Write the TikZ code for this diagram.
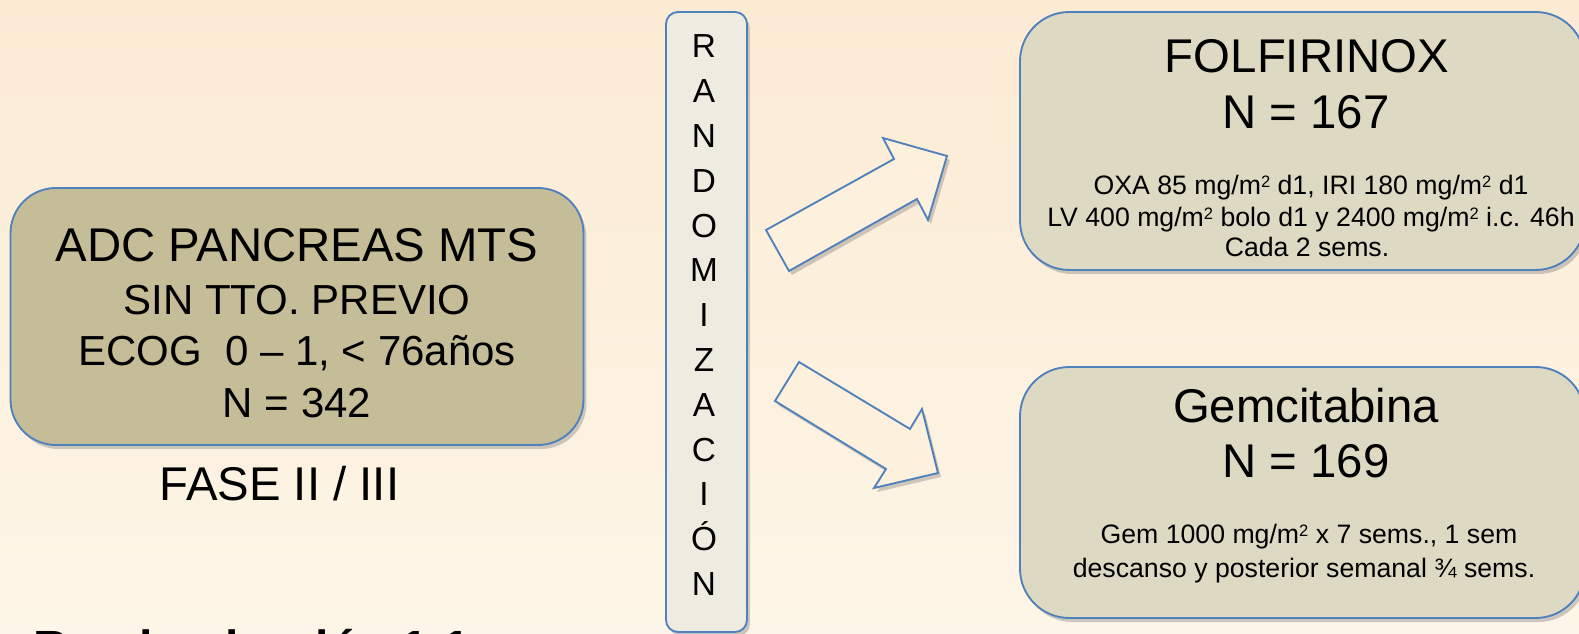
\documentclass[tikz,border=0pt]{standalone}
\usepackage{fontspec}
\setmainfont{Liberation Sans}
\usetikzlibrary{shadows}

\definecolor{bgtop}{RGB}{252,235,211}
\definecolor{bgbot}{RGB}{253,245,231}
\definecolor{edgeblue}{RGB}{79,129,189}
\definecolor{olivefill}{RGB}{196,189,151}
\definecolor{sandfill}{RGB}{221,217,195}
\definecolor{palefill}{RGB}{238,236,225}
\definecolor{arrowfill}{RGB}{253,240,221}

\newcommand{\sq}{\raisebox{0.55ex}{\scalebox{0.62}{2}}}

\tikzset{
  softshadow/.style={drop shadow={shadow xshift=2.2pt, shadow yshift=-3pt, fill=black!55, opacity=0.35}},
  panel/.style={draw=edgeblue, line width=1.4pt, softshadow, inner sep=0pt},
  txt/.style={anchor=base, inner sep=0pt, text=black},
  bigfont/.style={font=\fontsize{35.5}{40}\selectfont},
  midfont/.style={font=\fontsize{31.5}{36}\selectfont},
  smallfont/.style={font=\fontsize{20}{24}\selectfont},
  letterfont/.style={font=\fontsize{25}{28}\selectfont},
  blockarrow/.style={draw=edgeblue, line width=1.4pt, fill=arrowfill, line join=miter, softshadow},
}

\begin{document}
\begin{tikzpicture}[x=0.75pt, y=-0.75pt]
\useasboundingbox (0,0) rectangle (1579,634);
\clip (0,0) rectangle (1579,634);
\shade[top color=bgtop, bottom color=bgbot] (0,0) rectangle (1579,634);

% population box
\node[panel, fill=olivefill, rounded corners=34pt,
      minimum width=429.75pt, minimum height=192.75pt] (pop) at (297,316.5) {};
\node[txt, bigfont] (pop1) at (297,262) {ADC PANCREAS MTS};
\node[txt, midfont] (pop2) at (297,315) {SIN TTO. PREVIO};
\node[txt, midfont] (pop3) at (297,366) {ECOG\ \ 0 – 1, < 76años};
\node[txt, midfont] (pop4) at (297,418) {N = 342};
\node[txt, bigfont] (phase) at (279.5,501) {FASE II / III};

% randomisation bar
\node[panel, fill=palefill, rounded corners=9pt,
      minimum width=60.75pt, minimum height=465pt] (rand) at (706.5,322) {};
\foreach \l [count=\i from 0] in {R,A,N,D,O,M,I,Z,A,C,I,Ó,N}
  \node[txt, letterfont] (rl\i) at (704,58+44.8*\i) {\l};

% block arrows
\draw[blockarrow] (766,230) -- (789,271) -- (917,199) -- (928,220)
  -- (947,156) -- (883,138) -- (894,159) -- cycle;
\draw[blockarrow] (799,362) -- (775,401) -- (886,469) -- (874,488)
  -- (938,473) -- (922,409) -- (910,429) -- cycle;

% FOLFIRINOX arm
\node[panel, fill=sandfill, rounded corners=37pt,
      minimum width=423.75pt, minimum height=193.5pt] (armA) at (1302.5,141) {};
\node[txt, bigfont] (armA1) at (1307,73) {FOLFIRINOX};
\node[txt, bigfont] (armA2) at (1306,129) {N = 167};
\node[txt, smallfont] (armA3) at (1311,195) {OXA 85 mg/m\sq{} d1, IRI 180 mg/m\sq{} d1};
\node[txt, smallfont] (armA4) at (1311,227) {LV 400 mg/m\sq{} bolo d1 y 2400 mg/m\sq{} i.c. 46h};
\node[txt, smallfont] (armA5) at (1307,257) {Cada 2 sems.};

% gemcitabine arm
\node[panel, fill=sandfill, rounded corners=37pt,
      minimum width=423.75pt, minimum height=188.25pt] (armB) at (1302.5,492.5) {};
\node[txt, bigfont] (armB1) at (1306,423) {Gemcitabina};
\node[txt, bigfont] (armB2) at (1306,478) {N = 169};
\node[txt, smallfont] (armB3) at (1309,544) {Gem 1000 mg/m\sq{} x 7 sems., 1 sem};
\node[txt, smallfont] (armB4) at (1304,577) {descanso y posterior semanal ¾ sems.};

% allocation ratio, running off the lower edge
\node[anchor=base west, inner sep=0pt, font=\fontsize{36}{40}\selectfont\bfseries] (ratio) at (33,664) {Randomización 1:1};
\end{tikzpicture}
\end{document}
